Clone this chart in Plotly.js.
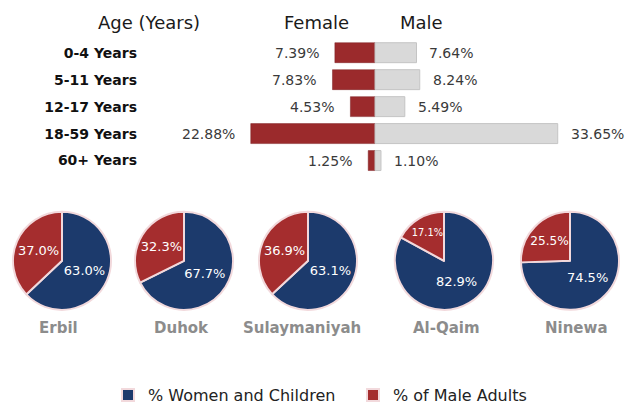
<!DOCTYPE html>
<html>
<head>
<meta charset="utf-8">
<script src="https://cdn.plot.ly/plotly-3.0.1.min.js"></script>
<style>html,body{margin:0;padding:0;background:#fff;}#chart{width:626px;height:412px;}</style>
</head>
<body>
<div id="chart"></div>
<script>
// ---- data ----
const ageGroups = ["0-4 Years", "5-11 Years", "12-17 Years", "18-59 Years", "60+ Years"];
const femalePct = [7.39, 7.83, 4.53, 22.88, 1.25];
const malePct = [7.64, 8.24, 5.49, 33.65, 1.10];
const locations = ["Erbil", "Duhok", "Sulaymaniyah", "Al-Qaim", "Ninewa"];
const pieLabels = ["% Women and Children", "% of Male Adults"];
const womenChildrenPct = [63.0, 67.7, 63.1, 82.9, 74.5];
const maleAdultsPct = [37.0, 32.3, 36.9, 17.1, 25.5];
const headerTexts = ["Age (Years)", "Female", "Male"];

// ---- layout constants ----
const W = 626, H = 412;
const pieCx = [62, 184, 308, 444, 570];
const labelCx = [58, 181, 302, 446, 576];
const pieCy = 266, pieR = 50;
const headerX = [149, 316, 421], headerY = 23;
const navy = "#1c3a6c", red = "#a52d2e", femaleRed = "#9b2a2c", maleGray = "#d9d9d9";
const fam = "DejaVu Sans, Liberation Sans, Arial, sans-serif";

const traces = [];
traces.push({
  type: "bar", orientation: "h", y: ageGroups, x: femalePct.map(v => -v),
  marker: {color: femaleRed, line: {color: "#7d2022", width: 0.5}}, width: 0.74,
  showlegend: false, hoverinfo: "skip"
});
traces.push({
  type: "bar", orientation: "h", y: ageGroups, x: malePct,
  marker: {color: maleGray, line: {color: "#c4c4c4", width: 1}}, width: 0.74,
  showlegend: false, hoverinfo: "skip"
});

locations.forEach((loc, i) => {
  traces.push({
    type: "pie", name: loc, labels: pieLabels,
    values: [womenChildrenPct[i], maleAdultsPct[i]],
    sort: false, direction: "clockwise", rotation: 0,
    marker: {colors: [navy, red], line: {color: "#f2d9dc", width: 2}},
    texttemplate: "%{value:.1f}%", textposition: "inside",
    insidetextorientation: "horizontal",
    textfont: {color: "#ffffff", size: 13, family: fam},
    domain: {x: [(pieCx[i] - pieR) / W, (pieCx[i] + pieR) / W],
             y: [1 - (pieCy + pieR) / H, 1 - (pieCy - pieR) / H]},
    showlegend: i === 0, hoverinfo: "skip"
  });
});

const annotations = [];
headerTexts.forEach((t, i) => annotations.push({
  xref: "paper", yref: "paper", x: headerX[i] / W, y: 1 - headerY / H,
  text: t, showarrow: false, xanchor: "center", yanchor: "middle",
  font: {family: fam, size: 18, color: "#1a1a1a"}
}));
ageGroups.forEach((g, i) => {
  annotations.push({xref: "x", yref: "y", x: -femalePct[i], y: g,
    text: femalePct[i].toFixed(2) + "%", showarrow: false,
    xanchor: "right", yanchor: "middle", xshift: -14,
    font: {family: fam, size: 14, color: "#3a3a3a"}});
  annotations.push({xref: "x", yref: "y", x: malePct[i], y: g,
    text: malePct[i].toFixed(2) + "%", showarrow: false,
    xanchor: "left", yanchor: "middle", xshift: 11,
    font: {family: fam, size: 14, color: "#3a3a3a"}});
});
locations.forEach((loc, i) => annotations.push({
  xref: "paper", yref: "paper", x: labelCx[i] / W, y: 1 - 334 / H,
  text: "<b>" + loc + "</b>", showarrow: false, xanchor: "center", yanchor: "middle",
  font: {family: fam, size: 15, color: "#8c8c8c"}
}));

const pxPerPct = 5.43, zeroPx = 375;
const layout = {
  width: W, height: H, margin: {l: 0, r: 0, t: 0, b: 0},
  paper_bgcolor: "#ffffff", plot_bgcolor: "rgba(0,0,0,0)",
  barmode: "relative",
  xaxis: {domain: [0, 1], range: [-zeroPx / pxPerPct, (W - zeroPx) / pxPerPct],
          visible: false, zeroline: false, showgrid: false, fixedrange: true},
  yaxis: {type: "category", range: [4.5, -0.5], anchor: "free", position: 137 / W,
          domain: [1 - 177.5 / H, 1 - 40 / H], showgrid: false, zeroline: false,
          showline: false, ticks: "", ticklabelstandoff: 0,
          tickfont: {family: fam, size: 14, color: "#111", weight: "bold"}},
  showlegend: true,
  legend: {orientation: "h", x: 0.5 + 40 / W, xanchor: "center", y: 1 - 403 / H, yanchor: "middle",
           font: {family: fam, size: 16, color: "#222"}, traceorder: "normal",
           entrywidth: 200, itemwidth: 30},
  annotations: annotations
};

Plotly.newPlot("chart", traces, layout, {staticPlot: true, displayModeBar: false});
</script>
</body>
</html>
